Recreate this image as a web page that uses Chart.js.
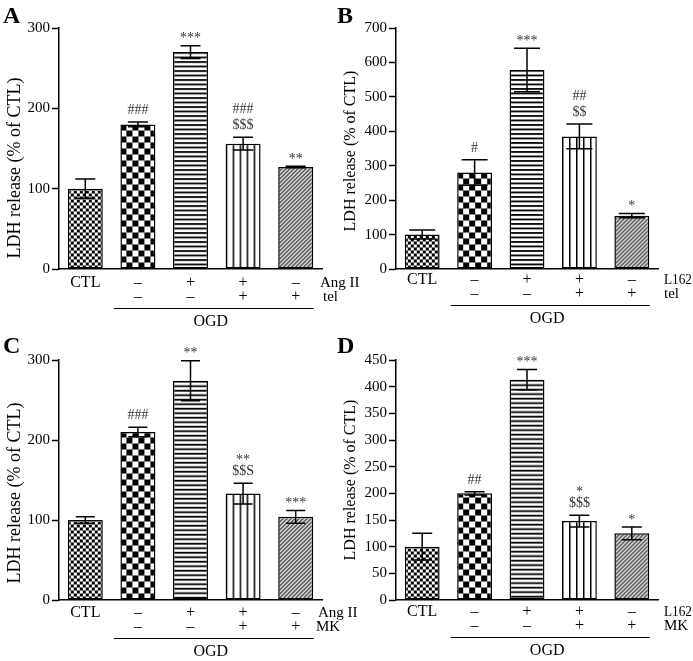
<!DOCTYPE html>
<html>
<head>
<meta charset="utf-8">
<script src="https://cdn.jsdelivr.net/npm/chart.js@4.4.1/dist/chart.umd.min.js"></script>
<style>
  html, body { margin: 0; padding: 0; background: #fff; }
  #wrap { position: relative; width: 693px; height: 661px; }
  #wrap canvas { position: absolute; left: 0; top: 0; }
</style>
</head>
<body>
<div id="wrap">
  <canvas id="panelA" width="693" height="661"></canvas>
  <canvas id="panelB" width="693" height="661"></canvas>
  <canvas id="panelC" width="693" height="661"></canvas>
  <canvas id="panelD" width="693" height="661"></canvas>
</div>
<script>
// treatment rows under the bars (same for all four panels)
var signsRow1 = ['CTL', '\u2013', '+', '+', '\u2013'];
var signsRow2 = ['', '\u2013', '\u2013', '+', '+'];

// panel A: Ang II / telmisartan
var valuesA = [100, 180, 270, 156, 127];
var errorsA = [12, 3, 8, 8, 1];
var marksA = [[], ['###'], ['***'], ['###', '$$$'], ['**']];
var drugsA = ['Ang II', 'tel'];
var yTicksA = [0, 100, 200, 300];

// panel B: L162 / telmisartan
var valuesB = [100, 280, 578, 385, 155];
var errorsB = [13, 37, 63, 36, 6];
var marksB = [[], ['#'], ['***'], ['##', '$$'], ['*']];
var drugsB = ['L162', 'tel'];
var yTicksB = [0, 100, 200, 300, 400, 500, 600, 700];

// panel C: Ang II / MK
var valuesC = [100, 210, 274, 133, 104];
var errorsC = [4, 6, 25, 13, 8];
var marksC = [[], ['###'], ['**'], ['**', '$$S'], ['***']];
var drugsC = ['Ang II', 'MK'];
var yTicksC = [0, 100, 200, 300];

// panel D: L162 / MK
var valuesD = [100, 200, 413, 148, 125];
var errorsD = [25, 3, 19, 11, 12];
var marksD = [[], ['##'], ['***'], ['*', '$$$'], ['*']];
var drugsD = ['L162', 'MK'];
var yTicksD = [0, 50, 100, 150, 200, 250, 300, 350, 400, 450];

var SERIF = '"Liberation Serif", "Times New Roman", serif';
var W = 693, H = 661;

function tile(w, h, draw) {
  var c = document.createElement('canvas');
  c.width = w; c.height = h;
  var g = c.getContext('2d');
  g.fillStyle = '#fff';
  g.fillRect(0, 0, w, h);
  g.fillStyle = '#000';
  g.strokeStyle = '#000';
  draw(g);
  return c;
}

var tiles = [
  tile(6, 6, function (g) { g.fillRect(0, 0, 3, 3); g.fillRect(3, 3, 3, 3); }),
  tile(12, 12, function (g) { g.fillRect(0, 0, 6, 6); g.fillRect(6, 6, 6, 6); }),
  tile(4, 9, function (g) { g.fillRect(0, 0, 4, 1.8); g.fillRect(0, 4.5, 4, 1.8); }),
  tile(7, 7, function (g) { g.fillRect(0, 0, 1.5, 7); }),
  tile(4, 4, function (g) {
    g.lineWidth = 1.2;
    g.beginPath();
    g.moveTo(0, 4); g.lineTo(4, 0);
    g.moveTo(-1, 1); g.lineTo(1, -1);
    g.moveTo(3, 5); g.lineTo(5, 3);
    g.stroke();
  })
];

// draw text squeezed horizontally if it would run past the page edge
function fitText(ctx, text, x, y, maxW) {
  var w = ctx.measureText(text).width;
  var sx = w > maxW ? maxW / w : 1;
  ctx.save();
  ctx.translate(x, y);
  ctx.scale(sx, 1);
  ctx.fillText(text, 0, 0);
  ctx.restore();
}

function makeExtras(p, patterns) {
  return {
    id: 'extras',
    beforeDatasetsDraw: function (chart) {
      var meta = chart.getDatasetMeta(0);
      meta.data.forEach(function (bar, i) {
        var left = bar.x - bar.width / 2;
        var y0 = i === 2 ? bar.y : bar.base;
        patterns[i].setTransform(new DOMMatrix().translate(left, y0));
      });
    },
    afterDatasetsDraw: function (chart) {
      var ctx = chart.ctx;
      var y = chart.scales.y, x = chart.scales.x;
      var meta = chart.getDatasetMeta(0);
      ctx.save();
      ctx.strokeStyle = '#000';
      ctx.lineWidth = 1.5;
      meta.data.forEach(function (bar, i) {
        var v = p.values[i], e = p.errors[i];
        var yt = y.getPixelForValue(v + e), yb = y.getPixelForValue(v - e);
        var hw = p.capW / 2;
        ctx.beginPath();
        ctx.moveTo(bar.x, yt); ctx.lineTo(bar.x, yb);
        ctx.moveTo(bar.x - hw, yt); ctx.lineTo(bar.x + hw, yt);
        ctx.moveTo(bar.x - hw, yb); ctx.lineTo(bar.x + hw, yb);
        ctx.stroke();

        // significance marks, stacked upward from the error cap
        ctx.fillStyle = '#333';
        ctx.font = '14px ' + SERIF;
        ctx.textAlign = 'center';
        ctx.textBaseline = 'alphabetic';
        var bottom = yt - 8;
        var lines = p.marks[i];
        for (var k = lines.length - 1; k >= 0; k--) {
          var t = lines[k];
          var star = t.charAt(0) === '*';
          var base = star ? bottom + 4.6 : bottom;
          ctx.fillText(t, bar.x, base);
          bottom = (star ? base - 9.5 : base - 10) - 6;
        }
      });

      // y title
      ctx.fillStyle = '#000';
      ctx.save();
      ctx.translate(p.titleX, p.titleY);
      ctx.rotate(-Math.PI / 2);
      ctx.font = p.titleSize + 'px ' + SERIF;
      ctx.textAlign = 'center';
      ctx.textBaseline = 'middle';
      ctx.fillText('LDH release (% of CTL)', 0, 0);
      ctx.restore();

      // panel letter
      ctx.font = 'bold 24px ' + SERIF;
      ctx.textAlign = 'left';
      ctx.textBaseline = 'alphabetic';
      ctx.fillText(p.letter, p.letterX, p.letterY);

      // drug names at the end of the sign rows
      var axisY = chart.chartArea.bottom;
      ctx.font = '15px ' + SERIF;
      ctx.textBaseline = 'middle';
      fitText(ctx, p.drugs[0], p.rowX[0], axisY + p.rowOffset, W - 1 - p.rowX[0]);
      fitText(ctx, p.drugs[1], p.rowX[1], axisY + p.rowOffset + 14, W - 1 - p.rowX[1]);

      // OGD bracket
      var x1 = x.getPixelForValue(1) - 24, x2 = x.getPixelForValue(4) + 18;
      var ly = axisY + p.rowOffset + 25;
      ctx.lineWidth = 1;
      ctx.beginPath();
      ctx.moveTo(x1, ly + 0.5); ctx.lineTo(x2, ly + 0.5);
      ctx.stroke();
      ctx.font = '16px ' + SERIF;
      ctx.textAlign = 'center';
      ctx.fillText('OGD', (x1 + x2) / 2 - 3, axisY + p.rowOffset + 39);
      ctx.restore();
    }
  };
}

function makePanel(id, values, errors, marks, drugs, yTicks, box) {
  var canvas = document.getElementById(id);
  var g = canvas.getContext('2d');
  var patterns = tiles.map(function (t) { return g.createPattern(t, 'repeat'); });
  var labels = signsRow1.map(function (s, i) { return [s, signsRow2[i]]; });
  var p = Object.assign({ values: values, errors: errors, marks: marks, drugs: drugs }, box);
  return new Chart(canvas, {
    type: 'bar',
    data: {
      labels: labels,
      datasets: [{
        data: values,
        backgroundColor: patterns,
        borderColor: '#000',
        borderWidth: 1.5,
        borderSkipped: false,
        categoryPercentage: 1,
        barPercentage: 0.665
      }]
    },
    options: {
      responsive: false,
      animation: false,
      events: [],
      layout: {
        padding: { left: box.axisX - 50, top: box.top, right: W - box.right, bottom: H - box.bottom - 50 }
      },
      plugins: { legend: { display: false }, tooltip: { enabled: false } },
      scales: {
        x: {
          grid: { display: false, drawTicks: false },
          border: { display: true, color: '#000', width: 1.5 },
          ticks: {
            color: '#000',
            padding: box.rowOffset - 7,
            maxRotation: 0,
            autoSkip: false,
            font: { family: SERIF, size: 16, lineHeight: 0.875 }
          },
          afterFit: function (s) { s.height = 50; }
        },
        y: {
          min: yTicks[0],
          max: yTicks[yTicks.length - 1],
          afterBuildTicks: function (s) { s.ticks = yTicks.map(function (v) { return { value: v }; }); },
          grid: { display: true, drawOnChartArea: false, drawTicks: true, tickLength: 7, tickColor: '#000', tickWidth: 1.5 },
          border: { display: true, color: '#000', width: 1.5 },
          ticks: { color: '#000', padding: 2, font: { family: SERIF, size: 15 } },
          afterFit: function (s) { s.width = 50; }
        }
      }
    },
    plugins: [makeExtras(p, patterns)]
  });
}

makePanel('panelA', valuesA, errorsA, marksA, drugsA, yTicksA,
  { letter: 'A', letterX: 3, letterY: 23, axisX: 59, right: 322, top: 28, bottom: 269,
    titleX: 15, titleY: 168, titleSize: 18, capW: 20, rowX: [320, 323], rowOffset: 14 });
makePanel('panelB', valuesB, errorsB, marksB, drugsB, yTicksB,
  { letter: 'B', letterX: 337, letterY: 23, axisX: 396, right: 658, top: 28, bottom: 269,
    titleX: 351, titleY: 151, titleSize: 16, capW: 26, rowX: [664, 664], rowOffset: 11 });
makePanel('panelC', valuesC, errorsC, marksC, drugsC, yTicksC,
  { letter: 'C', letterX: 3, letterY: 353, axisX: 59, right: 322, top: 360, bottom: 600,
    titleX: 15, titleY: 493, titleSize: 18, capW: 19, rowX: [318, 316], rowOffset: 13 });
makePanel('panelD', valuesD, errorsD, marksD, drugsD, yTicksD,
  { letter: 'D', letterX: 337, letterY: 353, axisX: 396, right: 658, top: 360, bottom: 600,
    titleX: 351, titleY: 480, titleSize: 16, capW: 20, rowX: [664, 664], rowOffset: 12 });
</script>
</body>
</html>
